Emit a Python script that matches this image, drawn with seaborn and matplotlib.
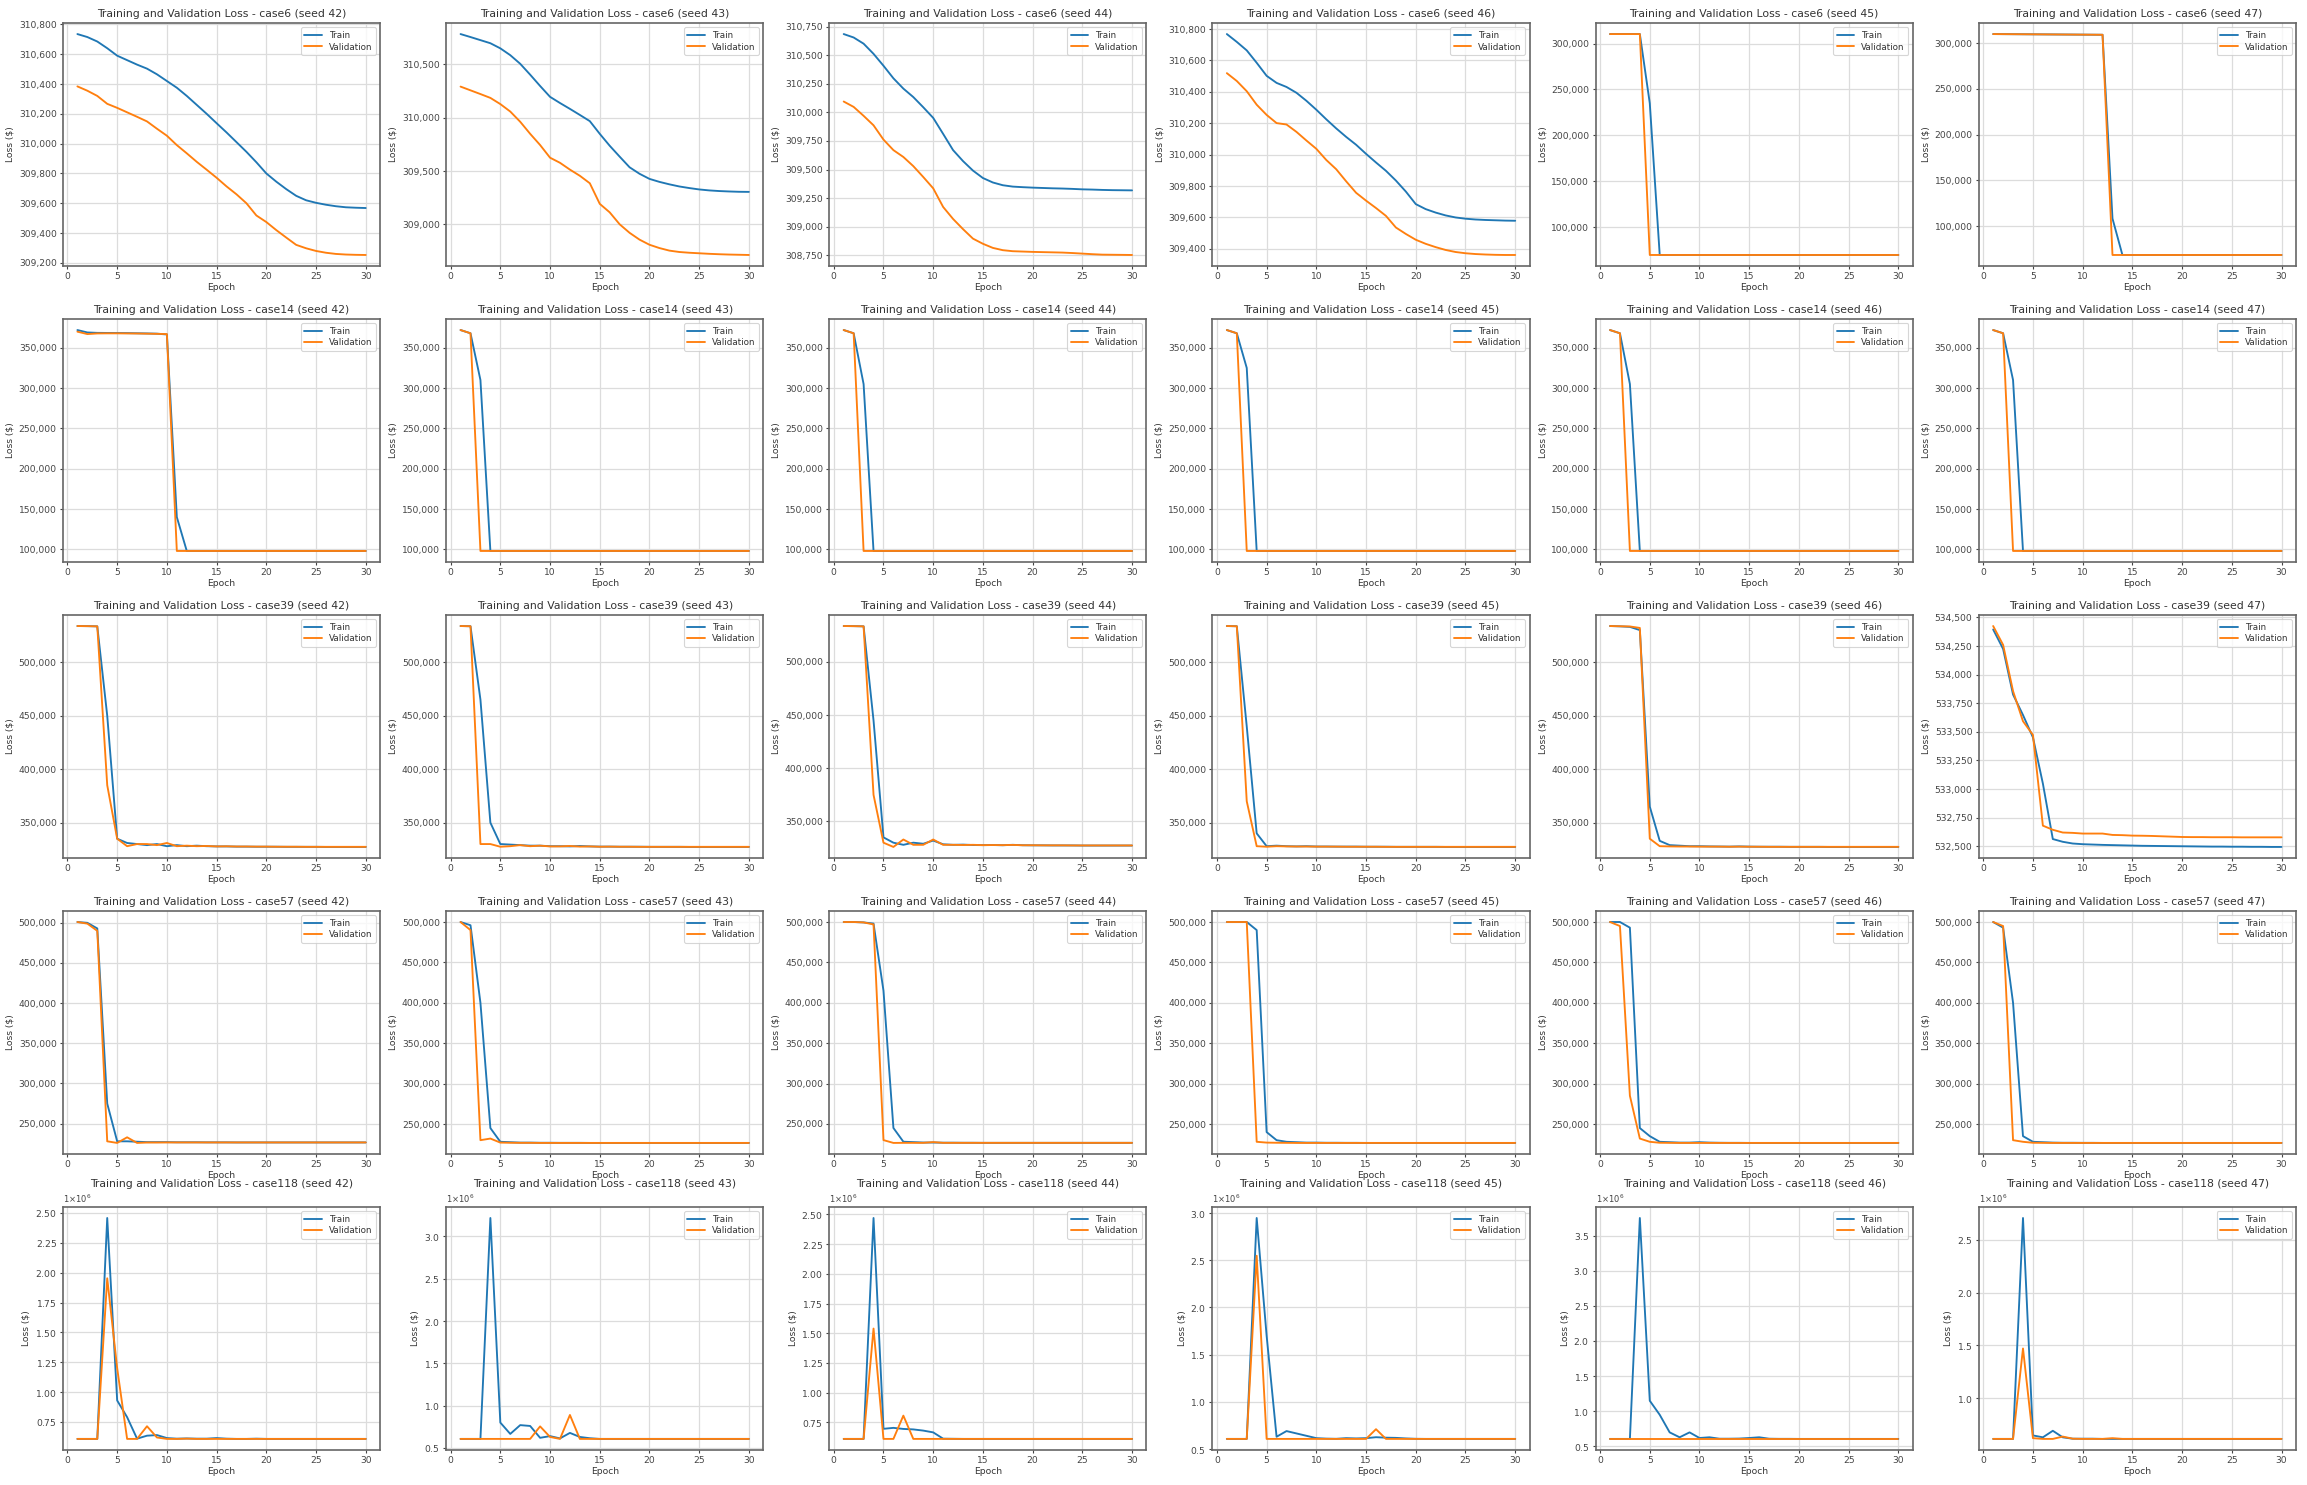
import matplotlib
matplotlib.use("Agg")
import matplotlib.pyplot as plt
import matplotlib.ticker as mticker
import seaborn as sns

epochs = list(range(1, 31))
cases = ["case6", "case14", "case39", "case57", "case118"]
case6_seeds = [42, 43, 44, 46, 45, 47]
other_seeds = [42, 43, 44, 45, 46, 47]

# ---------------- case6 ----------------
case6_s42_train = [310735, 310715, 310685, 310640, 310590, 310560, 310530, 310503, 310465, 310420,
                   310375, 310320, 310260, 310200, 310137, 310075, 310010, 309945, 309875, 309800,
                   309745, 309695, 309650, 309620, 309603, 309590, 309580, 309573, 309570, 309568]
case6_s42_val = [310384, 310355, 310320, 310267, 310240, 310210, 310180, 310149, 310100, 310053,
                 309990, 309935, 309878, 309825, 309771, 309713, 309660, 309600, 309518, 309474,
                 309420, 309370, 309321, 309298, 309280, 309268, 309260, 309256, 309254, 309253]
case6_s43_train = [310785, 310757, 310728, 310699, 310651, 310587, 310506, 310404, 310298, 310196,
                   310138, 310083, 310026, 309968, 309849, 309737, 309635, 309535, 309474, 309426,
                   309398, 309375, 309355, 309340, 309327, 309318, 309312, 309308, 309305, 309304]
case6_s43_val = [310292, 310257, 310222, 310186, 310128, 310058, 309962, 309849, 309744, 309625,
                 309577, 309513, 309455, 309385, 309192, 309112, 309000, 308920, 308856, 308808,
                 308777, 308753, 308740, 308733, 308728, 308723, 308719, 308716, 308714, 308712]
case6_s44_train = [310685, 310655, 310601, 310512, 310408, 310298, 310208, 310134, 310045, 309952,
                   309812, 309670, 309574, 309491, 309426, 309387, 309363, 309351, 309346, 309342,
                   309339, 309336, 309334, 309331, 309327, 309325, 309322, 309320, 309319, 309318]
case6_s44_val = [310095, 310048, 309970, 309887, 309762, 309670, 309610, 309530, 309435, 309336,
                 309173, 309068, 308979, 308896, 308851, 308815, 308795, 308786, 308783, 308780,
                 308778, 308776, 308774, 308770, 308765, 308760, 308756, 308755, 308754, 308753]
case6_s46_train = [310768, 310718, 310664, 310585, 310502, 310457, 310431, 310394, 310343, 310286,
                   310225, 310167, 310113, 310063, 310005, 309950, 309897, 309835, 309765, 309685,
                   309653, 309631, 309613, 309600, 309592, 309587, 309584, 309582, 309580, 309579]
case6_s46_val = [310519, 310469, 310404, 310318, 310253, 310201, 310192, 310145, 310090, 310037,
                 309966, 309907, 309830, 309757, 309707, 309660, 309610, 309536, 309495, 309458,
                 309432, 309411, 309393, 309380, 309372, 309367, 309364, 309362, 309361, 309361]
case6_s45_train = [310400, 310400, 310400, 310390, 235000, 69600, 69600, 69600, 69600, 69600,
                   69600, 69600, 69600, 69600, 69600, 69600, 69600, 69600, 69600, 69600,
                   69600, 69600, 69600, 69600, 69600, 69600, 69600, 69600, 69600, 69600]
case6_s45_val = [310400, 310400, 310400, 310390, 69600, 69600, 69600, 69600, 69600, 69600,
                 69600, 69600, 69600, 69600, 69600, 69600, 69600, 69600, 69600, 69600,
                 69600, 69600, 69600, 69600, 69600, 69600, 69600, 69600, 69600, 69600]
case6_s47_train = [310100, 310030, 309960, 309890, 309820, 309750, 309680, 309610, 309540, 309470,
                   309400, 309330, 108200, 68300, 68300, 68300, 68300, 68300, 68300, 68300,
                   68300, 68300, 68300, 68300, 68300, 68300, 68300, 68300, 68300, 68300]
case6_s47_val = [310100, 310030, 309960, 309890, 309820, 309750, 309680, 309610, 309540, 309470,
                 309400, 309330, 68300, 68300, 68300, 68300, 68300, 68300, 68300, 68300,
                 68300, 68300, 68300, 68300, 68300, 68300, 68300, 68300, 68300, 68300]

# ---------------- case14 ----------------
case14_s42_train = [372000, 369000, 368500, 368400, 368300, 368200, 368000, 367800, 367500, 366500,
                    140000, 98000, 98000, 98000, 98000, 98000, 98000, 98000, 98000, 98000,
                    98000, 98000, 98000, 98000, 98000, 98000, 98000, 98000, 98000, 98000]
case14_s42_val = [370000, 367000, 367800, 367900, 367900, 367800, 367700, 367500, 367300, 367000,
                  98000, 98000, 98000, 98000, 98000, 98000, 98000, 98000, 98000, 98000,
                  98000, 98000, 98000, 98000, 98000, 98000, 98000, 98000, 98000, 98000]
case14_s43_train = [372000, 368000, 310000, 98000, 98000, 98000, 98000, 98000, 98000, 98000,
                    98000, 98000, 98000, 98000, 98000, 98000, 98000, 98000, 98000, 98000,
                    98000, 98000, 98000, 98000, 98000, 98000, 98000, 98000, 98000, 98000]
case14_s43_val = [372000, 368000, 98000, 98000, 98000, 98000, 98000, 98000, 98000, 98000,
                  98000, 98000, 98000, 98000, 98000, 98000, 98000, 98000, 98000, 98000,
                  98000, 98000, 98000, 98000, 98000, 98000, 98000, 98000, 98000, 98000]
case14_s44_train = [372000, 368000, 305000, 98000, 98000, 98000, 98000, 98000, 98000, 98000,
                    98000, 98000, 98000, 98000, 98000, 98000, 98000, 98000, 98000, 98000,
                    98000, 98000, 98000, 98000, 98000, 98000, 98000, 98000, 98000, 98000]
case14_s44_val = [372000, 368000, 98000, 98000, 98000, 98000, 98000, 98000, 98000, 98000,
                  98000, 98000, 98000, 98000, 98000, 98000, 98000, 98000, 98000, 98000,
                  98000, 98000, 98000, 98000, 98000, 98000, 98000, 98000, 98000, 98000]
case14_s45_train = [372000, 368000, 325000, 98000, 98000, 98000, 98000, 98000, 98000, 98000,
                    98000, 98000, 98000, 98000, 98000, 98000, 98000, 98000, 98000, 98000,
                    98000, 98000, 98000, 98000, 98000, 98000, 98000, 98000, 98000, 98000]
case14_s45_val = [372000, 368000, 98000, 98000, 98000, 98000, 98000, 98000, 98000, 98000,
                  98000, 98000, 98000, 98000, 98000, 98000, 98000, 98000, 98000, 98000,
                  98000, 98000, 98000, 98000, 98000, 98000, 98000, 98000, 98000, 98000]
case14_s46_train = [372000, 368000, 305000, 98000, 98000, 98000, 98000, 98000, 98000, 98000,
                    98000, 98000, 98000, 98000, 98000, 98000, 98000, 98000, 98000, 98000,
                    98000, 98000, 98000, 98000, 98000, 98000, 98000, 98000, 98000, 98000]
case14_s46_val = [372000, 368000, 98000, 98000, 98000, 98000, 98000, 98000, 98000, 98000,
                  98000, 98000, 98000, 98000, 98000, 98000, 98000, 98000, 98000, 98000,
                  98000, 98000, 98000, 98000, 98000, 98000, 98000, 98000, 98000, 98000]
case14_s47_train = [372000, 368000, 310000, 98000, 98000, 98000, 98000, 98000, 98000, 98000,
                    98000, 98000, 98000, 98000, 98000, 98000, 98000, 98000, 98000, 98000,
                    98000, 98000, 98000, 98000, 98000, 98000, 98000, 98000, 98000, 98000]
case14_s47_val = [372000, 368000, 98000, 98000, 98000, 98000, 98000, 98000, 98000, 98000,
                  98000, 98000, 98000, 98000, 98000, 98000, 98000, 98000, 98000, 98000,
                  98000, 98000, 98000, 98000, 98000, 98000, 98000, 98000, 98000, 98000]

# ---------------- case39 ----------------
case39_s42_train = [533800, 533700, 533500, 450000, 335000, 331000, 330000, 329000, 330000, 328000,
                    329000, 328000, 328500, 328000, 327800, 327800, 327600, 327600, 327500, 327500,
                    327500, 327400, 327400, 327400, 327400, 327300, 327300, 327300, 327300, 327300]
case39_s42_val = [533800, 533700, 533500, 385000, 335000, 328000, 330000, 330000, 329000, 331000,
                  328000, 328500, 328000, 328200, 327800, 327900, 327700, 327700, 327600, 327600,
                  327500, 327500, 327500, 327400, 327400, 327400, 327400, 327400, 327400, 327400]
case39_s43_train = [533800, 533600, 465000, 350000, 330000, 329500, 329000, 328500, 328500, 328000,
                    328000, 327800, 328200, 327800, 327600, 327600, 327500, 327500, 327500, 327400,
                    327400, 327400, 327400, 327300, 327300, 327300, 327300, 327300, 327300, 327300]
case39_s43_val = [533800, 533600, 330000, 330000, 327500, 328000, 329000, 328000, 328500, 327800,
                  327800, 328200, 327600, 327800, 327500, 327600, 327500, 327500, 327400, 327400,
                  327400, 327400, 327400, 327400, 327400, 327400, 327400, 327400, 327400, 327400]
case39_s44_train = [533800, 533700, 533500, 445000, 335000, 330000, 328000, 330000, 329000, 332000,
                    328500, 328000, 328200, 327800, 327700, 327800, 327600, 328000, 327600, 327500,
                    327500, 327400, 327400, 327400, 327300, 327300, 327300, 327300, 327300, 327300]
case39_s44_val = [533800, 533700, 533500, 375000, 330000, 326000, 333000, 328000, 328000, 333000,
                  328000, 328000, 327800, 328000, 327700, 327800, 327700, 327900, 327600, 327600,
                  327500, 327500, 327500, 327400, 327400, 327400, 327400, 327400, 327400, 327400]
case39_s45_train = [533800, 533600, 440000, 340000, 328000, 328500, 328000, 327800, 328000, 327700,
                    327700, 327600, 327600, 327600, 327500, 327500, 327500, 327400, 327400, 327400,
                    327400, 327400, 327300, 327300, 327300, 327300, 327300, 327300, 327300, 327300]
case39_s45_val = [533800, 533600, 370000, 328000, 327500, 328000, 327800, 327700, 327700, 327600,
                  327600, 327600, 327500, 327500, 327500, 327500, 327400, 327400, 327400, 327400,
                  327400, 327400, 327400, 327400, 327400, 327400, 327400, 327400, 327400, 327400]
case39_s46_train = [533800, 533500, 533000, 530000, 365000, 333000, 329000, 328500, 328000, 328000,
                    327800, 327700, 327600, 327800, 327600, 327500, 327500, 327500, 327400, 327400,
                    327400, 327400, 327300, 327300, 327300, 327300, 327300, 327300, 327300, 327300]
case39_s46_val = [533800, 533600, 533400, 532000, 335000, 328000, 327800, 327700, 327700, 327600,
                  327600, 327600, 327500, 327600, 327500, 327500, 327400, 327400, 327400, 327400,
                  327400, 327400, 327400, 327400, 327400, 327400, 327400, 327400, 327400, 327400]
case39_s47_train = [534395, 534225, 533826, 533647, 533452, 533048, 532563, 532539, 532524, 532518,
                    532515, 532512, 532510, 532508, 532506, 532504, 532503, 532502, 532501, 532500,
                    532499, 532498, 532497, 532497, 532496, 532496, 532495, 532495, 532494, 532494]
case39_s47_val = [534425, 534260, 533856, 533593, 533473, 532680, 532644, 532620, 532617, 532611,
                  532611, 532611, 532599, 532597, 532593, 532592, 532590, 532587, 532584, 532581,
                  532580, 532580, 532579, 532579, 532579, 532578, 532578, 532578, 532578, 532578]

# ---------------- case57 ----------------
case57_s42_train = [501000, 500000, 493000, 275000, 228000, 228000, 227500, 227000, 227000, 227000,
                    226800, 226800, 226800, 226700, 226700, 226700, 226600, 226600, 226600, 226600,
                    226600, 226600, 226600, 226600, 226600, 226600, 226600, 226600, 226600, 226600]
case57_s42_val = [501000, 499000, 490000, 228000, 226000, 233000, 226000, 226500, 226500, 226600,
                  226600, 226600, 226600, 226600, 226600, 226600, 226600, 226600, 226600, 226600,
                  226600, 226600, 226600, 226600, 226600, 226600, 226600, 226600, 226600, 226600]
case57_s43_train = [500000, 496000, 400000, 245000, 228000, 227500, 227000, 227000, 226800, 226800,
                    226700, 226700, 226700, 226600, 226600, 226600, 226600, 226600, 226600, 226600,
                    226600, 226600, 226600, 226600, 226600, 226600, 226600, 226600, 226600, 226600]
case57_s43_val = [500000, 490000, 230000, 232000, 227000, 226800, 226700, 226700, 226600, 226600,
                  226600, 226600, 226600, 226600, 226600, 226600, 226600, 226600, 226600, 226600,
                  226600, 226600, 226600, 226600, 226600, 226600, 226600, 226600, 226600, 226600]
case57_s44_train = [500000, 500000, 499500, 498000, 415000, 245000, 228000, 227500, 227000, 227000,
                    226800, 226800, 226700, 226700, 226600, 226600, 226600, 226600, 226600, 226600,
                    226600, 226600, 226600, 226600, 226600, 226600, 226600, 226600, 226600, 226600]
case57_s44_val = [500000, 500000, 499500, 497000, 230000, 226500, 226600, 226600, 226600, 227500,
                  226600, 226600, 226600, 226600, 226600, 226600, 226600, 226600, 226600, 226600,
                  226600, 226600, 226600, 226600, 226600, 226600, 226600, 226600, 226600, 226600]
case57_s45_train = [500000, 500000, 500000, 490000, 240000, 230000, 228000, 227500, 227000, 227000,
                    226800, 226800, 226700, 226700, 226600, 226600, 226600, 226600, 226600, 226600,
                    226600, 226600, 226600, 226600, 226600, 226600, 226600, 226600, 226600, 226600]
case57_s45_val = [500000, 500000, 500000, 228000, 227000, 226800, 226700, 226600, 226600, 226600,
                  226600, 226600, 226600, 226600, 226600, 226600, 226600, 226600, 226600, 226600,
                  226600, 226600, 226600, 226600, 226600, 226600, 226600, 226600, 226600, 226600]
case57_s46_train = [500000, 500000, 493000, 245000, 235000, 228000, 227500, 227000, 227000, 227500,
                    227000, 226800, 226700, 226700, 226600, 226600, 226600, 226600, 226600, 226600,
                    226600, 226600, 226600, 226600, 226600, 226600, 226600, 226600, 226600, 226600]
case57_s46_val = [500000, 495000, 285000, 232000, 228000, 226800, 226700, 226600, 226600, 226600,
                  226600, 226600, 226600, 226600, 226600, 226600, 226600, 226600, 226600, 226600,
                  226600, 226600, 226600, 226600, 226600, 226600, 226600, 226600, 226600, 226600]
case57_s47_train = [500000, 493000, 400000, 235000, 228000, 227500, 227000, 226800, 226800, 226700,
                    226700, 226600, 226600, 226600, 226600, 226600, 226600, 226600, 226600, 226600,
                    226600, 226600, 226600, 226600, 226600, 226600, 226600, 226600, 226600, 226600]
case57_s47_val = [500000, 495000, 230000, 228000, 226800, 226700, 226600, 226600, 226600, 226600,
                  226600, 226600, 226600, 226600, 226600, 226600, 226600, 226600, 226600, 226600,
                  226600, 226600, 226600, 226600, 226600, 226600, 226600, 226600, 226600, 226600]

# ---------------- case118 ----------------
case118_s42_train = [608000, 608000, 608000, 2458000, 930000, 790000, 610000, 635000, 640000, 615000,
                     610000, 612000, 610000, 610000, 615000, 610000, 608000, 608000, 610000, 608000,
                     608000, 608000, 608000, 608000, 608000, 608000, 608000, 608000, 608000, 608000]
case118_s42_val = [608000, 608000, 608000, 1953000, 1200000, 608000, 608000, 714000, 620000, 608000,
                   608000, 610000, 608000, 608000, 608000, 608000, 608000, 608000, 608000, 608000,
                   608000, 608000, 608000, 608000, 608000, 608000, 608000, 608000, 608000, 608000]
case118_s43_train = [607000, 607000, 607000, 3218000, 800000, 666000, 770000, 760000, 620000, 640000,
                     613000, 678000, 630000, 615000, 607000, 607000, 607000, 607000, 607000, 607000,
                     607000, 607000, 607000, 607000, 607000, 607000, 607000, 607000, 607000, 607000]
case118_s43_val = [607000, 607000, 607000, 607000, 607000, 607000, 607000, 607000, 755000, 630000,
                   607000, 890000, 607000, 607000, 607000, 607000, 607000, 607000, 607000, 607000,
                   607000, 607000, 607000, 607000, 607000, 607000, 607000, 607000, 607000, 607000]
case118_s44_train = [610000, 610000, 610000, 2470000, 695000, 703000, 694000, 690000, 680000, 665000,
                     612000, 611000, 610000, 610000, 610000, 610000, 610000, 610000, 610000, 610000,
                     610000, 610000, 610000, 610000, 610000, 610000, 610000, 610000, 610000, 610000]
case118_s44_val = [610000, 610000, 610000, 1539000, 610000, 610000, 806000, 610000, 610000, 610000,
                   610000, 610000, 610000, 610000, 610000, 610000, 610000, 610000, 610000, 610000,
                   610000, 610000, 610000, 610000, 610000, 610000, 610000, 610000, 610000, 610000]
case118_s45_train = [607000, 607000, 607000, 2948000, 1700000, 630000, 690000, 665000, 640000, 615000,
                     610000, 608000, 615000, 612000, 615000, 625000, 620000, 618000, 612000, 608000,
                     607000, 607000, 607000, 607000, 607000, 607000, 607000, 607000, 607000, 607000]
case118_s45_val = [607000, 607000, 607000, 2548000, 607000, 607000, 607000, 607000, 607000, 607000,
                   607000, 607000, 607000, 607000, 607000, 710000, 607000, 607000, 607000, 607000,
                   607000, 607000, 607000, 607000, 607000, 607000, 607000, 607000, 607000, 607000]
case118_s46_train = [607000, 607000, 607000, 3750000, 1150000, 950000, 700000, 630000, 700000, 620000,
                     630000, 610000, 610000, 612000, 620000, 630000, 610000, 608000, 608000, 607000,
                     607000, 607000, 607000, 607000, 607000, 607000, 607000, 607000, 607000, 607000]
case118_s46_val = [607000, 607000, 607000, 607000, 607000, 607000, 607000, 607000, 607000, 607000,
                   607000, 607000, 607000, 607000, 607000, 607000, 607000, 607000, 607000, 607000,
                   607000, 607000, 607000, 607000, 607000, 607000, 607000, 607000, 607000, 607000]
case118_s47_train = [613000, 613000, 613000, 2706000, 646000, 628000, 690000, 628000, 615000, 615000,
                     615000, 613000, 613000, 613000, 613000, 613000, 613000, 613000, 613000, 613000,
                     613000, 613000, 613000, 613000, 613000, 613000, 613000, 613000, 613000, 613000]
case118_s47_val = [613000, 613000, 613000, 1470000, 620000, 613000, 613000, 635000, 615000, 613000,
                   613000, 613000, 620000, 613000, 613000, 613000, 613000, 613000, 613000, 613000,
                   613000, 613000, 613000, 613000, 613000, 613000, 613000, 613000, 613000, 613000]

series = {
    ("case6", 42): (case6_s42_train, case6_s42_val),
    ("case6", 43): (case6_s43_train, case6_s43_val),
    ("case6", 44): (case6_s44_train, case6_s44_val),
    ("case6", 46): (case6_s46_train, case6_s46_val),
    ("case6", 45): (case6_s45_train, case6_s45_val),
    ("case6", 47): (case6_s47_train, case6_s47_val),
    ("case14", 42): (case14_s42_train, case14_s42_val),
    ("case14", 43): (case14_s43_train, case14_s43_val),
    ("case14", 44): (case14_s44_train, case14_s44_val),
    ("case14", 45): (case14_s45_train, case14_s45_val),
    ("case14", 46): (case14_s46_train, case14_s46_val),
    ("case14", 47): (case14_s47_train, case14_s47_val),
    ("case39", 42): (case39_s42_train, case39_s42_val),
    ("case39", 43): (case39_s43_train, case39_s43_val),
    ("case39", 44): (case39_s44_train, case39_s44_val),
    ("case39", 45): (case39_s45_train, case39_s45_val),
    ("case39", 46): (case39_s46_train, case39_s46_val),
    ("case39", 47): (case39_s47_train, case39_s47_val),
    ("case57", 42): (case57_s42_train, case57_s42_val),
    ("case57", 43): (case57_s43_train, case57_s43_val),
    ("case57", 44): (case57_s44_train, case57_s44_val),
    ("case57", 45): (case57_s45_train, case57_s45_val),
    ("case57", 46): (case57_s46_train, case57_s46_val),
    ("case57", 47): (case57_s47_train, case57_s47_val),
    ("case118", 42): (case118_s42_train, case118_s42_val),
    ("case118", 43): (case118_s43_train, case118_s43_val),
    ("case118", 44): (case118_s44_train, case118_s44_val),
    ("case118", 45): (case118_s45_train, case118_s45_val),
    ("case118", 46): (case118_s46_train, case118_s46_val),
    ("case118", 47): (case118_s47_train, case118_s47_val),
}

TRAIN_COLOR = "#1f77b4"
VAL_COLOR = "#ff7f0e"
TEXT_COLOR = "#333333"

sns.set_style("whitegrid", {
    "axes.edgecolor": "#666666",
    "grid.color": "#dcdcdc",
    "xtick.bottom": True,
    "ytick.left": True,
    "xtick.color": "#444444",
    "ytick.color": "#444444",
    "axes.labelcolor": TEXT_COLOR,
    "text.color": TEXT_COLOR,
})
plt.rcParams.update({
    "font.family": ["DejaVu Sans"],
    "axes.linewidth": 1.2,
    "grid.linewidth": 0.9,
    "xtick.major.size": 2.5,
    "ytick.major.size": 2.5,
    "xtick.major.width": 0.8,
    "ytick.major.width": 0.8,
    "xtick.labelsize": 6.6,
    "ytick.labelsize": 6.6,
    "axes.labelsize": 6.6,
    "axes.titlesize": 7.8,
})


class OneTimesOffset(mticker.ScalarFormatter):
    def get_offset(self):
        s = super().get_offset()
        return ("1" + s) if s else s


fig, axes = plt.subplots(5, 6, figsize=(23.07, 14.85), dpi=100)
fig.subplots_adjust(left=0.0273, right=0.9952, bottom=0.0236, top=0.9845,
                    wspace=0.208, hspace=0.218)

for r, case in enumerate(cases):
    seeds = case6_seeds if case == "case6" else other_seeds
    for c, seed in enumerate(seeds):
        ax = axes[r, c]
        tr, va = series[(case, seed)]
        sns.lineplot(x=epochs, y=tr, ax=ax, color=TRAIN_COLOR, linewidth=1.35, label="Train")
        sns.lineplot(x=epochs, y=va, ax=ax, color=VAL_COLOR, linewidth=1.35, label="Validation")
        ax.set_title(f"Training and Validation Loss - {case} (seed {seed})", color=TEXT_COLOR, pad=4)
        ax.set_xlabel("Epoch", labelpad=1)
        ax.set_ylabel("Loss ($)", labelpad=3)
        ax.xaxis.set_major_locator(mticker.MultipleLocator(5))
        ax.tick_params(axis="both", pad=2)
        if case == "case118":
            fmt = OneTimesOffset(useMathText=True)
            ax.yaxis.set_major_formatter(fmt)
            ax.yaxis.get_offset_text().set_fontsize(6.0)
        else:
            ax.yaxis.set_major_formatter(mticker.FuncFormatter(lambda v, p: f"{v:,.0f}"))
        leg = ax.legend(loc="upper right", fontsize=6.3, frameon=True, handlelength=2.0,
                        borderpad=0.4, labelspacing=0.3)
        leg.get_frame().set_edgecolor("#cccccc")
        leg.get_frame().set_linewidth(0.8)

fig.savefig("out.png", dpi=100, facecolor="white")
